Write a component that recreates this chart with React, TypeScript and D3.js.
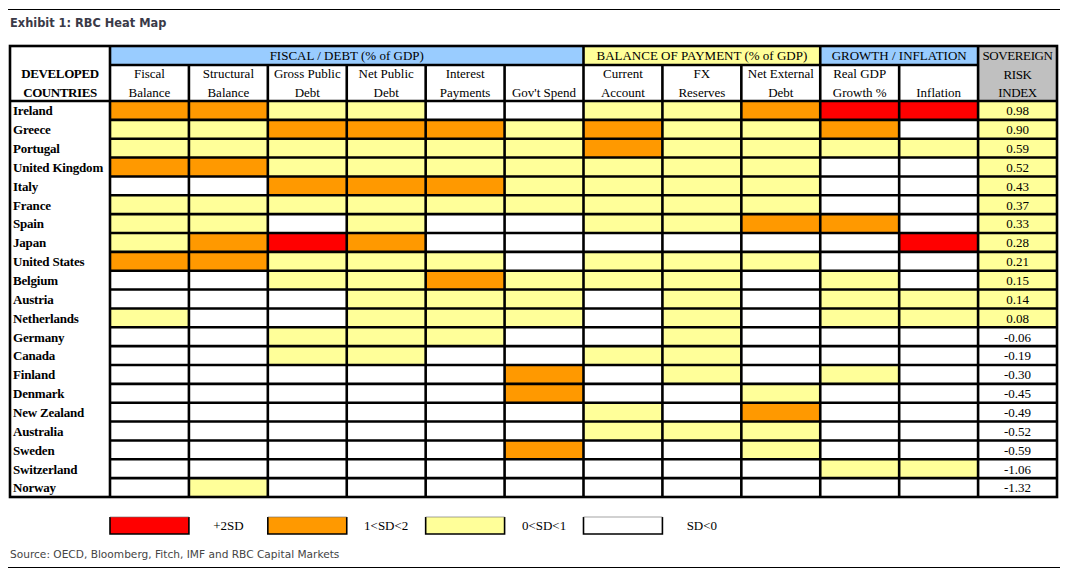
import { useEffect } from 'react';
import * as d3 from 'd3';

// rows of the heat map
const countries = [
  'Ireland', 'Greece', 'Portugal', 'United Kingdom', 'Italy', 'France', 'Spain',
  'Japan', 'United States', 'Belgium', 'Austria', 'Netherlands', 'Germany', 'Canada',
  'Finland', 'Denmark', 'New Zealand', 'Australia', 'Sweden', 'Switzerland', 'Norway',
];

// column headers (one or two lines each)
const columns: string[][] = [
  ['Fiscal', 'Balance'], ['Structural', 'Balance'], ['Gross Public', 'Debt'],
  ['Net Public', 'Debt'], ['Interest', 'Payments'], ["Gov't Spend"],
  ['Current', 'Account'], ['FX', 'Reserves'], ['Net External', 'Debt'],
  ['Real GDP', 'Growth %'], ['Inflation'],
];

const groupLabels = ['FISCAL / DEBT (% of GDP)', 'BALANCE OF PAYMENT (% of GDP)', 'GROWTH / INFLATION'];
const groupStarts = [0, 6, 9];
const groupEnds = [6, 9, 11];

// 3 = +2SD, 2 = 1<SD<2, 1 = 0<SD<1, 0 = SD<0
const levels: number[][] = [
  [2, 2, 1, 1, 0, 0, 1, 1, 2, 3, 3], // Ireland
  [1, 1, 2, 2, 2, 1, 2, 1, 1, 2, 0], // Greece
  [1, 1, 1, 1, 1, 1, 2, 1, 1, 1, 1], // Portugal
  [2, 2, 1, 1, 1, 1, 1, 1, 1, 0, 0], // United Kingdom
  [0, 0, 2, 2, 2, 1, 1, 1, 1, 0, 0], // Italy
  [1, 1, 1, 1, 1, 1, 1, 1, 1, 0, 0], // France
  [1, 1, 0, 1, 0, 0, 1, 1, 2, 2, 0], // Spain
  [1, 2, 3, 2, 0, 0, 0, 0, 0, 0, 3], // Japan
  [2, 2, 1, 1, 1, 0, 1, 1, 1, 0, 0], // United States
  [0, 0, 1, 1, 2, 1, 1, 1, 0, 1, 0], // Belgium
  [0, 0, 0, 1, 1, 1, 0, 1, 0, 1, 1], // Austria
  [1, 0, 0, 1, 1, 1, 0, 1, 0, 1, 1], // Netherlands
  [0, 0, 1, 1, 1, 0, 0, 1, 0, 0, 0], // Germany
  [0, 0, 1, 1, 0, 0, 1, 1, 0, 0, 0], // Canada
  [0, 0, 0, 0, 0, 2, 0, 1, 0, 1, 0], // Finland
  [0, 0, 0, 0, 0, 2, 0, 0, 1, 0, 0], // Denmark
  [0, 0, 0, 0, 0, 0, 1, 0, 2, 0, 0], // New Zealand
  [0, 0, 0, 0, 0, 0, 1, 1, 1, 0, 0], // Australia
  [0, 0, 0, 0, 0, 2, 0, 0, 1, 0, 0], // Sweden
  [0, 0, 0, 0, 0, 0, 0, 0, 0, 1, 1], // Switzerland
  [0, 1, 0, 0, 0, 0, 0, 0, 0, 0, 0], // Norway
];

const riskIndex = [
  0.98, 0.90, 0.59, 0.52, 0.43, 0.37, 0.33, 0.28, 0.21, 0.15, 0.14,
  0.08, -0.06, -0.19, -0.30, -0.45, -0.49, -0.52, -0.59, -1.06, -1.32,
];

const legendLabels = ['+2SD', '1<SD<2', '0<SD<1', 'SD<0'];
const legendLevels = [3, 2, 1, 0];

const levelColor = d3.scaleOrdinal<number, string>()
  .domain([0, 1, 2, 3])
  .range(['#FFFFFF', '#FFFF99', '#FF9900', '#FF0000']);
const groupColors = ['#99CCFF', '#FFFF99', '#99CCFF'];

const W = 1090;
const H = 581;
const tableLeft = 10;
const nameRight = 110;
const tableRight = 1057;
const top = 46;
const head1 = 65;
const head2 = 101;
const bottom = 497;
const LW = 2.6;
const FS = 13;
const serif = '"Liberation Serif", "Times New Roman", serif';
const sans = '"DejaVu Sans", Verdana, sans-serif';

const App = () => {
  useEffect(() => {
    document.body.style.margin = '0';
  }, []);

  const x = d3.scaleLinear().domain([0, columns.length + 1]).range([nameRight, tableRight]);
  const y = d3.scaleBand<string>().domain(countries).range([head2, bottom]);
  const cw = x(1) - x(0);
  const rh = y.bandwidth();
  const idxCol = columns.length;

  const vLines: { x: number; y1: number }[] = d3.range(1, columns.length + 1).map((i) => ({
    x: x(i),
    y1: groupEnds.includes(i) ? top : head1,
  }));

  return (
    <svg width={W} height={H} style={{ display: 'block', background: '#fff' }}>
      <line x1={8} x2={1060} y1={9.5} y2={9.5} stroke="#000" strokeWidth={1.2} />
      <text x={10} y={27} fontFamily={sans} fontWeight="bold" fontSize={11.4} fill="#3a3a48">
        Exhibit 1: RBC Heat Map
      </text>

      {/* group header band */}
      {groupLabels.map((g, i) => (
        <g key={g}>
          <rect x={x(groupStarts[i])} y={top} width={x(groupEnds[i]) - x(groupStarts[i])} height={head1 - top} fill={groupColors[i]} />
          <text x={(x(groupStarts[i]) + x(groupEnds[i])) / 2} y={60} textAnchor="middle" fontFamily={serif} fontSize={FS}>
            {g}
          </text>
        </g>
      ))}
      <rect x={x(idxCol)} y={top} width={cw} height={head2 - top} fill="#C0C0C0" />
      {['SOVEREIGN', 'RISK', 'INDEX'].map((t, i) => (
        <text key={t} x={x(idxCol) + cw / 2} y={60 + i * 18.5} textAnchor="middle" fontFamily={serif} fontSize={FS} letterSpacing={-0.4}>
          {t}
        </text>
      ))}
      {['DEVELOPED', 'COUNTRIES'].map((t, i) => (
        <text key={t} x={(tableLeft + nameRight) / 2} y={78 + i * 18.5} textAnchor="middle" fontFamily={serif} fontWeight="bold" fontSize={FS} letterSpacing={-0.4}>
          {t}
        </text>
      ))}

      {/* column headers */}
      {columns.map((c, i) =>
        c.map((t, j) => (
          <text key={t + j} x={x(i) + cw / 2} y={(c.length === 1 ? 96.5 : 78 + j * 18.5)} textAnchor="middle" fontFamily={serif} fontSize={FS}>
            {t}
          </text>
        )),
      )}

      {/* cells */}
      {countries.map((name, r) => (
        <g key={name}>
          {levels[r].map((lv, c) => (
            <rect key={c} x={x(c)} y={y(name)!} width={cw} height={rh} fill={levelColor(lv)} />
          ))}
          <rect x={x(idxCol)} y={y(name)!} width={cw} height={rh} fill={riskIndex[r] > 0 ? '#FFFF99' : '#FFFFFF'} />
          <text x={x(idxCol) + cw / 2} y={y(name)! + rh / 2 + 4.8} textAnchor="middle" fontFamily={serif} fontSize={FS}>
            {riskIndex[r].toFixed(2)}
          </text>
          <text x={13} y={y(name)! + rh / 2 + 4.8} fontFamily={serif} fontWeight="bold" fontSize={FS} letterSpacing={-0.2}>
            {name}
          </text>
        </g>
      ))}

      {/* grid */}
      <g stroke="#000" strokeWidth={LW} fill="none">
        {vLines.map((v) => (
          <line key={v.x} x1={v.x} x2={v.x} y1={v.y1} y2={bottom} />
        ))}
        <line x1={nameRight} x2={nameRight} y1={top} y2={bottom} />
        <line x1={nameRight} x2={x(idxCol)} y1={head1} y2={head1} />
        <line x1={tableLeft} x2={tableRight} y1={head2} y2={head2} />
        {countries.slice(1).map((name) => (
          <line key={name} x1={nameRight} x2={tableRight} y1={y(name)!} y2={y(name)!} />
        ))}
        <rect x={tableLeft} y={top} width={tableRight - tableLeft} height={bottom - top} />
      </g>

      {/* legend */}
      {legendLabels.map((lab, i) => {
        const bx = x(i * 2);
        return (
          <g key={lab}>
            <rect x={bx} y={517} width={cw} height={17} fill={levelColor(legendLevels[i])} />
            <path d={`M${bx},517 V534 H${bx + cw} V517`} fill="none" stroke="#000" strokeWidth={1.6} />
            <line x1={bx} x2={bx + cw} y1={517} y2={517} stroke="#666" strokeWidth={0.6} />
            <text x={x(i * 2 + 1) + cw / 2} y={530} textAnchor="middle" fontFamily={serif} fontSize={FS}>
              {lab}
            </text>
          </g>
        );
      })}

      <text x={10} y={558} fontFamily={sans} fontSize={10.6} fill="#444">
        Source: OECD, Bloomberg, Fitch, IMF and RBC Capital Markets
      </text>
      <line x1={8} x2={1060} y1={567.5} y2={567.5} stroke="#000" strokeWidth={1.2} />
    </svg>
  );
};

export default App;
